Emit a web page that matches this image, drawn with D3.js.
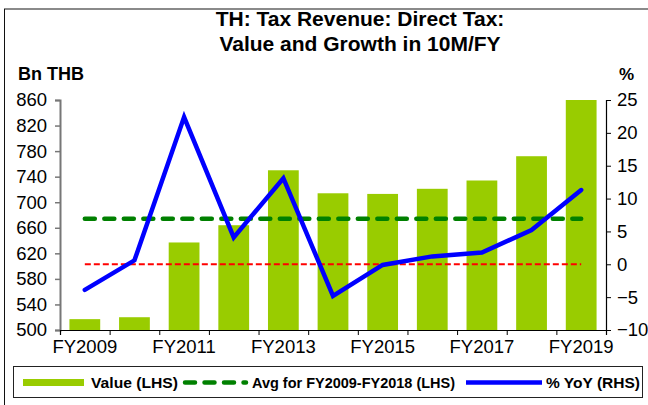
<!DOCTYPE html>
<html><head><meta charset="utf-8">
<script src="https://cdn.jsdelivr.net/npm/d3@7/dist/d3.min.js"></script>
<style>body{margin:0;background:#fff}svg{display:block;font-family:"Liberation Sans",Arial,sans-serif}</style>
</head><body><svg id="c" width="648" height="405"></svg>
<script>
const years = ["FY2009","FY2010","FY2011","FY2012","FY2013","FY2014","FY2015","FY2016","FY2017","FY2018","FY2019"];
const values = [517,520,637,664,750,714,713,721,734,772,860];
const yoy = [-3.9,0.6,22.4,4.1,13.1,-4.8,-0.1,1.2,1.8,5.2,11.3];
const avgValue = 674.2;
const leftTicks = [500,540,580,620,660,700,740,780,820,860];
const rightTicks = [-10,-5,0,5,10,15,20,25];
const xLabels = ["FY2009","FY2011","FY2013","FY2015","FY2017","FY2019"];
const titleLines = ["TH: Tax Revenue: Direct Tax:","Value and Growth in 10M/FY"];
const legendItems = ["Value (LHS)","Avg for FY2009-FY2018 (LHS)","% YoY (RHS)"];

const svg = d3.select("#c");
const L = 60, R = 606, T = 100, B = 330;
const x = d3.scaleBand().domain(years).range([L,R]).paddingInner(0.38).paddingOuter(0.19);
const xb = d3.scaleLinear().domain([0, years.length]).range([L,R]);
const yL = d3.scaleLinear().domain([500,860]).range([B,T]);
const yR = d3.scaleLinear().domain([-10,25]).range([B,T]);
const cx = d => x(d) + x.bandwidth()/2;

// frame
svg.append("rect").attr("x",4).attr("y",8).attr("width",644).attr("height",2).attr("fill","#8a8a8a");
svg.append("line").attr("x1",4.5).attr("x2",4.5).attr("y1",9).attr("y2",405).attr("stroke","#111").attr("stroke-width",1);

// title
svg.append("g").selectAll("text").data(titleLines).join("text")
  .attr("x",360).attr("y",(d,i)=>26+i*25).attr("text-anchor","middle")
  .attr("font-size",21).attr("font-weight","bold").attr("fill","#000").text(d=>d);
svg.append("text").attr("x",18).attr("y",80).attr("font-size",18).attr("font-weight","bold").text("Bn THB");
svg.append("text").attr("x",619).attr("y",80).attr("font-size",17).attr("font-weight","bold").text("%");

// bars
svg.append("g").selectAll("rect").data(years).join("rect")
  .attr("x",d=>x(d)).attr("width",x.bandwidth())
  .attr("y",(d,i)=>yL(values[i])).attr("height",(d,i)=>B-yL(values[i]))
  .attr("fill","#99cc00");

// avg line
svg.append("line").attr("x1",cx(years[0])).attr("x2",cx(years[years.length-1]))
  .attr("y1",yL(avgValue)).attr("y2",yL(avgValue))
  .attr("stroke","#008000").attr("stroke-width",4.5).attr("stroke-dasharray","10,9.5").attr("stroke-linecap","round");
// zero line
svg.append("line").attr("x1",cx(years[0])).attr("x2",cx(years[years.length-1]))
  .attr("y1",yR(0)).attr("y2",yR(0))
  .attr("stroke","#ff0000").attr("stroke-width",2).attr("stroke-dasharray","6,3");
// yoy line
svg.append("path").datum(yoy)
  .attr("d",d3.line().x((d,i)=>cx(years[i])).y(d=>yR(d)))
  .attr("fill","none").attr("stroke","#0000ff").attr("stroke-width",4.5)
  .attr("stroke-linecap","round").attr("stroke-linejoin","miter");

// axes
const fs = 18.5;
const gl = svg.append("g").attr("transform",`translate(${L},0)`)
  .call(d3.axisLeft(yL).tickValues(leftTicks).tickSize(5).tickPadding(8));
gl.select(".domain").attr("stroke","#777").attr("stroke-width",2);
gl.selectAll(".tick line").attr("stroke","#777").attr("stroke-width",1.5);
gl.selectAll("text").attr("font-size",fs).attr("font-family","Liberation Sans, Arial").attr("fill","#000");

const gr = svg.append("g").attr("transform",`translate(${R},0)`)
  .call(d3.axisRight(yR).tickValues(rightTicks).tickSize(5).tickPadding(6));
gr.select(".domain").attr("stroke","#000").attr("stroke-width",1.2);
gr.selectAll(".tick line").attr("stroke","#000");
gr.selectAll("text").attr("font-size",fs).attr("font-family","Liberation Sans, Arial").attr("fill","#000");

const gb = svg.append("g").attr("transform",`translate(0,${B})`)
  .call(d3.axisBottom(xb).tickValues(d3.range(years.length+1)).tickFormat("").tickSize(5));
gb.select(".domain").attr("stroke","#000").attr("stroke-width",1.2);
gb.selectAll(".tick line").attr("stroke","#000");

const gx = svg.append("g").attr("transform",`translate(0,${B})`)
  .call(d3.axisBottom(x).tickValues(xLabels).tickSize(0).tickPadding(10));
gx.select(".domain").remove();
gx.selectAll("text").attr("font-size",fs).attr("font-family","Liberation Sans, Arial").attr("fill","#000");

// legend
const lg = svg.append("g");
lg.append("rect").attr("x",13.5).attr("y",366.5).attr("width",629).attr("height",31)
  .attr("fill","#fff").attr("stroke","#222").attr("stroke-width",1);
const ly = 382.5;
lg.append("line").attr("x1",23).attr("x2",84).attr("y1",ly).attr("y2",ly).attr("stroke","#99cc00").attr("stroke-width",7);
lg.append("line").attr("x1",185).attr("x2",246).attr("y1",ly).attr("y2",ly)
  .attr("stroke","#008000").attr("stroke-width",4.5).attr("stroke-dasharray","10,9.5").attr("stroke-linecap","round");
lg.append("line").attr("x1",466).attr("x2",542).attr("y1",ly).attr("y2",ly).attr("stroke","#0000ff").attr("stroke-width",4.5);
const lx = [91,252,546];
const lw = [87,203,94];
lg.selectAll("text").data(legendItems).join("text")
  .attr("x",(d,i)=>lx[i]).attr("y",ly+5.5).attr("font-size",15).attr("font-weight","bold")
  .attr("textLength",(d,i)=>lw[i]).attr("lengthAdjust","spacingAndGlyphs").text(d=>d);
</script></body></html>
